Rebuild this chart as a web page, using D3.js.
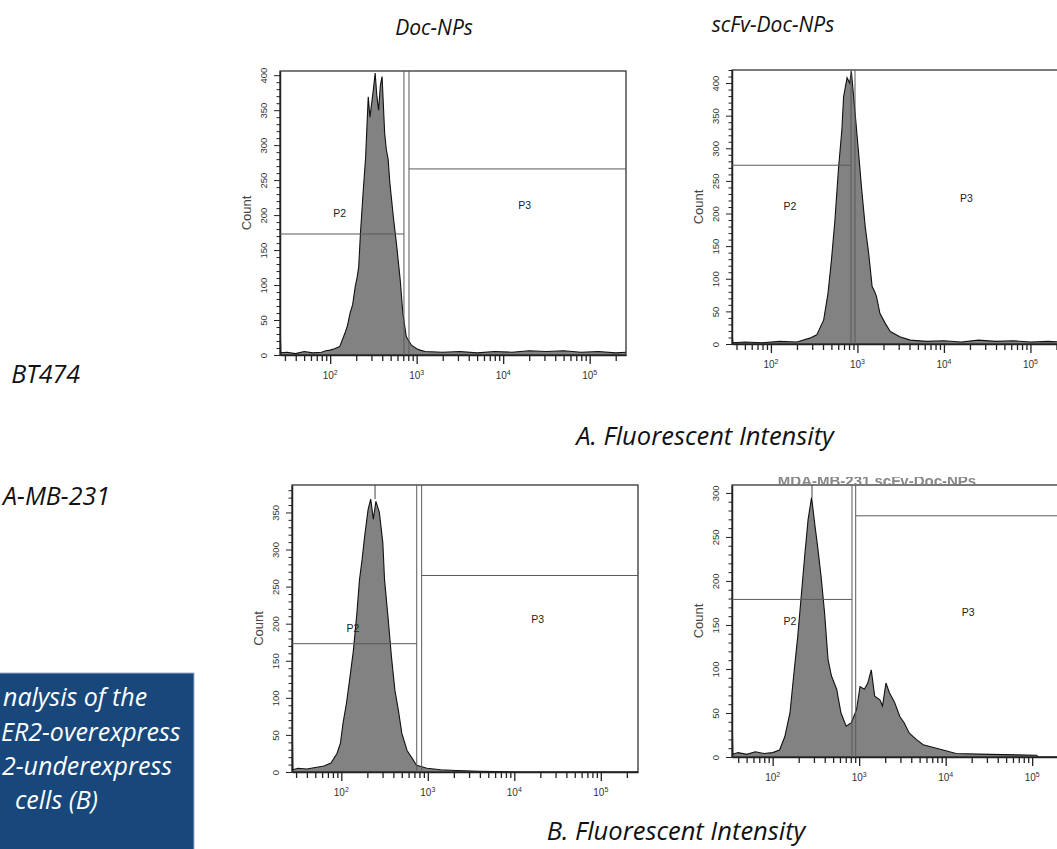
<!DOCTYPE html>
<html><head><meta charset="utf-8">
<script src="https://cdn.jsdelivr.net/npm/d3@7"></script>
<style>body{margin:0;background:#fff;overflow:hidden} svg{display:block}</style>
</head><body>
<svg id="c" width="1057" height="849"></svg>
<script>
// ---------- DATA (log10 fluorescence intensity, count) ----------
const bt474DocLog   = [1.42,1.425,1.43,1.5,1.6,1.7,1.8,1.9,1.95,2.0,2.05,2.11,2.17,2.2,2.23,2.26,2.29,2.31,2.33,2.35,2.38,2.41,2.44,2.46,2.48,2.5,2.52,2.54,2.56,2.58,2.6,2.63,2.65,2.67,2.69,2.73,2.77,2.81,2.84,2.88,2.94,3.0,3.04,3.1,3.3,3.5,3.7,3.9,4.1,4.3,4.5,4.7,4.9,5.1,5.3,5.42];
const bt474DocCount = [26,26,3,4,2,5,3,4,6,7,9,12,31,42,60,72,98,110,126,174,231,283,369,340,360,380,403,370,350,385,398,317,293,280,246,198,155,107,60,26,14,9,7,5,4,5,3,5,4,6,5,6,4,5,3,4];

const bt474ScfvLog   = [1.55,1.555,1.56,1.7,1.9,2.1,2.3,2.45,2.53,2.61,2.66,2.7,2.74,2.78,2.82,2.84,2.88,2.91,2.93,2.97,3.01,3.05,3.09,3.13,3.17,3.2,3.22,3.26,3.32,3.38,3.49,3.61,3.8,4.0,4.2,4.4,4.6,4.8,5.0,5.2,5.4,5.55];
const bt474ScfvCount = [9,9,2,3,2,4,3,9,14,37,78,129,190,267,328,379,408,400,418,359,298,236,180,139,88,80,73,47,32,19,11,6,4,5,3,6,4,5,3,4,3,2];

const mdaDocLog   = [1.43,1.435,1.44,1.5,1.6,1.7,1.8,1.88,1.95,1.99,2.02,2.06,2.1,2.14,2.18,2.21,2.24,2.27,2.31,2.34,2.37,2.4,2.44,2.48,2.5,2.54,2.58,2.62,2.66,2.7,2.76,2.81,2.87,2.99,3.15,3.33,3.6,4.0,5.43];
const mdaDocCount = [50,50,3,5,4,6,8,12,25,39,66,93,128,164,214,259,286,318,354,368,341,365,350,309,259,209,155,110,83,52,29,20,9,5,3,2,1,0,0];

const mdaScfvLog   = [1.53,1.535,1.54,1.6,1.7,1.8,1.9,2.0,2.08,2.14,2.2,2.25,2.29,2.33,2.37,2.41,2.45,2.49,2.52,2.56,2.6,2.64,2.68,2.74,2.79,2.85,2.91,2.97,3.01,3.06,3.1,3.14,3.18,3.24,3.27,3.31,3.35,3.41,3.47,3.52,3.58,3.66,3.74,3.85,3.97,4.12,4.51,5.05,5.07,5.53];
const mdaScfvCount = [27,27,3,5,3,6,4,5,8,23,50,99,137,182,228,270,295,262,239,205,164,111,92,77,50,35,39,54,80,77,84,99,69,65,58,84,73,62,46,39,27,20,14,11,8,4,3,2,0,0];

// axis domains
const xLogStart = [1.42, 1.55, 1.43, 1.53];   // 4 decades shown per panel
const yMax      = [406, 420, 387, 309];
const yLabelMax = [400, 400, 350, 300];
// gates (data units)
const gateLeftLog  = [2.853, 2.926, 2.872, 2.917];
const gateRightLog = [2.911, 2.972, 2.929, 2.960];
const gateP2Count  = [173, 274, 173, 179];
const gateP3Count  = [266, null, 265, 274];
const markerLog    = [null, null, 2.39, 2.455];
const p2Label      = [[2.11,197],[2.22,205],[2.135,189],[2.20,150]];
const p3Label      = [[4.25,209],[4.26,218],[4.27,201],[4.26,160]];
const gateNames    = ["P2","P3"];

const columnTitles = ["Doc-NPs","scFv-Doc-NPs"];
const rowLabels    = ["BT474","A-MB-231"];
const sectionTitles= ["A. Fluorescent Intensity","B. Fluorescent Intensity"];
const captionLines = ["nalysis of the","ER2-overexpress","2-underexpress","cells (B)"];
const yAxisTitle   = "Count";
const hiddenTitle  = "MDA-MB-231 scFv-Doc-NPs";

// ---------- LAYOUT ----------
const frames = [
  {l:280, t:71,  b:355, w:346},
  {l:732, t:70,  b:344, w:346},
  {l:292, t:485, b:772, w:346},
  {l:732, t:485, b:757, w:346}
];
const series = [
  [bt474DocLog, bt474DocCount],
  [bt474ScfvLog, bt474ScfvCount],
  [mdaDocLog, mdaDocCount],
  [mdaScfvLog, mdaScfvCount]
];

const svg = d3.select("#c");
const sans = "'Liberation Sans', Arial, sans-serif";
const ital = "'Open Sans', 'Noto Sans', sans-serif";

const defs = svg.append("defs");
defs.append("filter").attr("id", "soft").append("feGaussianBlur").attr("stdDeviation", 0.7);

frames.forEach((f, i) => {
  const g = svg.append("g");
  const x = d3.scaleLog().domain([Math.pow(10, xLogStart[i]), Math.pow(10, xLogStart[i] + 4)]).range([f.l, f.l + f.w]);
  const y = d3.scaleLinear().domain([0, yMax[i]]).range([f.b, f.t]);
  const pts = series[i][0].map((v, k) => [Math.pow(10, v), series[i][1][k]]);

  const clipId = "clip" + i;
  defs.append("clipPath").attr("id", clipId).append("rect")
    .attr("x", f.l).attr("y", f.t).attr("width", f.w).attr("height", f.b - f.t);

  const area = d3.area().x(d => x(d[0])).y0(y(0)).y1(d => y(d[1]));
  const line = d3.line().x(d => x(d[0])).y(d => y(d[1]));
  g.append("path").datum(pts).attr("d", area).attr("fill", "#828282").attr("clip-path", `url(#${clipId})`);
  g.append("path").datum(pts).attr("d", line).attr("fill", "none").attr("stroke", "#111").attr("stroke-width", 1.1).attr("clip-path", `url(#${clipId})`);

  // gates
  const gl = svg.append("g").attr("stroke", "#5a5a5a").attr("stroke-width", 1).attr("fill", "none").attr("clip-path", `url(#${clipId})`);
  const xa = x(Math.pow(10, gateLeftLog[i])), xb = x(Math.pow(10, gateRightLog[i]));
  gl.append("line").attr("x1", xa).attr("x2", xa).attr("y1", f.t).attr("y2", f.b);
  gl.append("line").attr("x1", xb).attr("x2", xb).attr("y1", f.t).attr("y2", f.b);
  gl.append("line").attr("x1", f.l).attr("x2", xa).attr("y1", y(gateP2Count[i])).attr("y2", y(gateP2Count[i]));
  if (gateP3Count[i] !== null)
    gl.append("line").attr("x1", xb).attr("x2", f.l + f.w).attr("y1", y(gateP3Count[i])).attr("y2", y(gateP3Count[i]));
  if (markerLog[i] !== null) {
    const xm = x(Math.pow(10, markerLog[i]));
    const peak = d3.max(pts, d => d[1]);
    gl.append("line").attr("x1", xm).attr("x2", xm).attr("y1", f.t).attr("y2", y(peak)).attr("stroke", "#444");
  }
  [p2Label[i], p3Label[i]].forEach((p, k) => {
    g.append("text").attr("x", x(Math.pow(10, p[0]))).attr("y", y(p[1]))
      .attr("text-anchor", "middle").attr("font-family", sans).attr("font-size", 10.5).attr("fill", "#222")
      .text(gateNames[k]);
  });

  // frame
  g.append("rect").attr("x", f.l).attr("y", f.t).attr("width", f.w).attr("height", f.b - f.t)
    .attr("fill", "none").attr("stroke", "#222").attr("stroke-width", 1.2);

  // y axis
  const yTicks = d3.range(0, yMax[i] + 0.1, 10);
  const ya = g.append("g").attr("transform", `translate(${f.l},0)`)
    .call(d3.axisLeft(y).tickValues(yTicks).tickSize(3).tickSizeOuter(0)
      .tickFormat(d => (d % 50 === 0 && d <= yLabelMax[i]) ? d : ""));
  ya.select(".domain").attr("stroke", "#222").attr("stroke-width", 1.5);
  ya.selectAll(".tick line").attr("stroke", "#222").attr("x2", d => d % 50 === 0 ? -6 : -3.5);
  ya.selectAll(".tick text").attr("transform", "rotate(-90)").attr("x", 0).attr("y", -13).attr("dy", 0)
    .attr("text-anchor", "middle").attr("font-family", sans).attr("font-size", 9.5).attr("fill", "#333");

  // x axis
  const xTicks = [];
  for (let e = 1; e <= 6; e++) for (let m = 1; m <= 9; m++) {
    const v = m * Math.pow(10, e);
    if (v >= x.domain()[0] && v <= x.domain()[1]) xTicks.push(v);
  }
  const xaG = g.append("g").attr("transform", `translate(0,${f.b})`)
    .call(d3.axisBottom(x).tickValues(xTicks).tickSize(6).tickSizeOuter(0).tickFormat(""));
  xaG.select(".domain").attr("stroke", "#222").attr("stroke-width", 1.5);
  xaG.selectAll(".tick line").attr("stroke", "#222").attr("stroke-width", 1.3)
    .attr("y2", d => Math.abs(Math.log10(d) - Math.round(Math.log10(d))) < 1e-9 ? 9 : 6);
  [2, 3, 4, 5].forEach(e => {
    const t = g.append("text").attr("x", x(Math.pow(10, e))).attr("y", f.b + 24)
      .attr("text-anchor", "middle").attr("font-family", sans).attr("font-size", 10).attr("fill", "#333");
    t.append("tspan").text("10");
    t.append("tspan").attr("dy", -4).attr("font-size", 7).text(e);
  });

  // y title
  const cy = (f.t + f.b) / 2;
  g.append("text").attr("transform", `translate(${f.l - 29},${cy}) rotate(-90)`)
    .attr("text-anchor", "middle").attr("font-family", sans).attr("font-size", 13).attr("fill", "#444")
    .text(yAxisTitle);
});

// faint cut-off title above last panel
defs.append("clipPath").attr("id", "tclip").append("rect").attr("x", 700).attr("y", 477).attr("width", 357).attr("height", 7);
svg.append("g").attr("clip-path", "url(#tclip)").append("text").attr("x", 877).attr("y", 486).attr("text-anchor", "middle")
  .attr("font-family", sans).attr("font-size", 15).attr("font-weight", "bold").attr("fill", "#888")
  .attr("filter", "url(#soft)").text(hiddenTitle);

// column titles
const colX = [434, 773], colY = [35, 32];
columnTitles.forEach((t, k) => svg.append("text").attr("x", colX[k]).attr("y", colY[k]).attr("text-anchor", "middle")
  .attr("font-family", ital).attr("font-style", "italic").attr("font-size", 21).attr("fill", "#111").text(t));

// row labels
const rowEndX = [80, 110], rowY = [383, 505];
rowLabels.forEach((t, k) => svg.append("text").attr("x", rowEndX[k]).attr("y", rowY[k]).attr("text-anchor", "end")
  .attr("font-family", ital).attr("font-style", "italic").attr("font-size", 25).attr("fill", "#111").text(t));

// section titles
const secX = [705, 676], secY = [445, 840];
sectionTitles.forEach((t, k) => svg.append("text").attr("x", secX[k]).attr("y", secY[k]).attr("text-anchor", "middle")
  .attr("font-family", ital).attr("font-style", "italic").attr("font-size", 25.5).attr("fill", "#111").text(t));

// caption box
svg.append("rect").attr("x", -2).attr("y", 673).attr("width", 196).attr("height", 190)
  .attr("fill", "#17477b").attr("stroke", "#9fb2c6").attr("stroke-width", 1);
const capStartX = [3, 1, 2, 15], capY = [706, 741, 775, 809];
captionLines.forEach((t, k) => svg.append("text").attr("x", capStartX[k]).attr("y", capY[k]).attr("text-anchor", "start")
  .attr("font-family", ital).attr("font-style", "italic").attr("font-size", 25).attr("fill", "#fff").text(t));
</script>
</body></html>
